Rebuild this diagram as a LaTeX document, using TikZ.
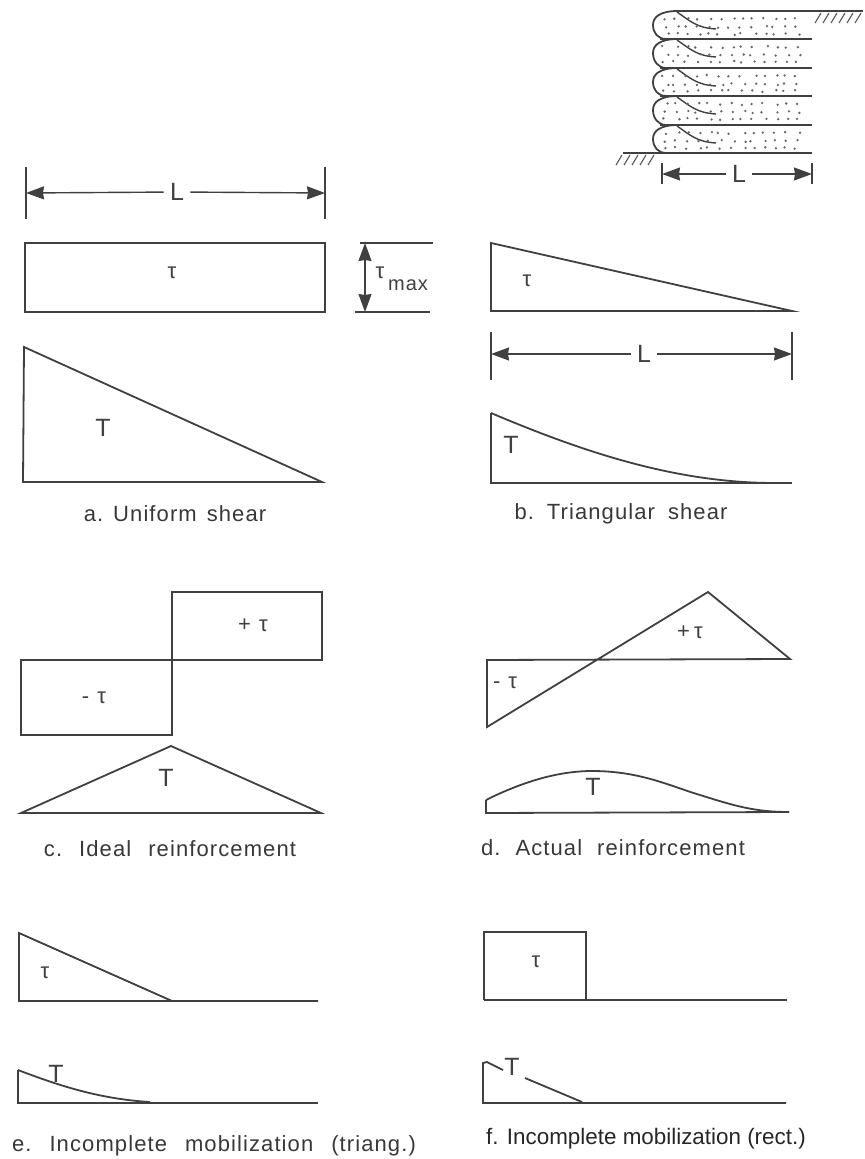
\documentclass[tikz,border=0pt]{standalone}
\usepackage{fontspec}
\setmainfont{Liberation Sans}
\usetikzlibrary{arrows.meta, positioning}

\begin{document}
\begin{tikzpicture}[
                        x=0.5pt, y=-0.5pt,
                        font       = \small,
                        line/.style = {draw=black!75, line width=0.9pt, line join=miter},
                        thin line/.style = {draw=black!75, line width=0.7pt},
                        hatch/.style = {draw=black!65, line width=0.55pt},
                        ar/.style  = {{Stealth[length=9pt,width=6.5pt,inset=0.5pt]}-{Stealth[length=9pt,width=6.5pt,inset=0.5pt]}, draw=black!75, line width=0.7pt},
                        arone/.style  = {-{Stealth[length=9pt,width=6.5pt,inset=0.5pt]}, draw=black!75, line width=0.7pt},
                        lbl/.style = {text=black!75, inner sep=0pt, font=\fontsize{11}{13}\selectfont},
                        bigl/.style = {text=black!75, inner sep=3pt, font=\fontsize{12.5}{14}\selectfont},
                        capt/.style = {text=black!78, inner sep=0pt, font=\fontsize{11}{13}\selectfont\addfontfeature{LetterSpace=5}}
                  ]
                  \useasboundingbox (0,0) rectangle (864,1159);

                  % wrapped layers
                  \foreach \yt/\yb in {11/39, 39/68, 68/96, 96/125, 125/153} {
                        \draw[line] (678,\yt) .. controls (660,\yt) and (653,\yt+6) .. (653,\yt+14)
                                              .. controls (653,\yt+22) and (658,\yb) .. (666,\yb);
                        \draw[thin line] (677,\yt+1) .. controls (690,\yt+10) and (697,\yt+17) .. (716,\yt+18);
                        \draw[line] (660,\yb) -- (812,\yb);
                  }
                  \draw[line] (675,11) -- (863,11);
                  \draw[line] (623,153) -- (660,153);
                  \foreach \hx in {815,823,...,860} \draw[hatch] (\hx+6,13) -- (\hx,23);
                  \foreach \hx in {616,624,...,648} \draw[hatch] (\hx+6,155) -- (\hx,165);

                  % soil
                  \pgfmathsetseed{11}
                  \foreach \yt in {11,39,68,96,125} {
                        \foreach \rowy in {7,15,22} {
                              \foreach \px in {662,673,...,802} {
                                    \fill[black!60] (\px+7*rnd,\yt+\rowy+2*rnd) circle (0.65pt);
                              }
                        }
                  }

                  % key sketch L
                  \coordinate (keyl) at (662,174);
                  \coordinate (keyr) at (812,174);
                  \node[bigl] (keyL) at (739,174) {L};
                  \draw[arone] (keyL) -- (keyl);
                  \draw[arone] (keyL) -- (keyr);
                  \draw[thin line] (662,163) -- (662,184);
                  \draw[thin line] (812,163) -- (812,184);

                  % a
                  \coordinate (al) at (26,193);
                  \coordinate (ar) at (325,193);
                  \node[bigl] (aL) at (177,192) {L};
                  \draw[arone] (aL) -- (al);
                  \draw[arone] (aL) -- (ar);
                  \draw[thin line] (26,167) -- (26,219);
                  \draw[thin line] (325,167) -- (325,219);
                  \draw[line] (25,243) rectangle (325,312);
                  \node[lbl] (atau) at (172,273) {τ};
                  \draw[line] (360,243) -- (433,243);
                  \draw[line] (355,312) -- (430,312);
                  \coordinate (mt) at (365,243);
                  \coordinate (mb) at (365,312);
                  \draw[ar] (mt) -- (mb);
                  \node[lbl] (mtau) at (380,273) {τ};
                  \node[lbl, font=\fontsize{10}{12}\selectfont\addfontfeature{LetterSpace=5}] (mmax) at (408,285) {max};
                  \draw[line] (24,347) -- (23,482) -- (322,482) -- cycle;
                  \node[bigl] (aT) at (103,428) {T};
                  \node[capt] (acap) at (175,514) {a.\hspace{5pt}Uniform\hspace{5pt}shear};

                  % b
                  \draw[line] (491,243) -- (491,311) -- (792,311) -- cycle;
                  \node[lbl] (btau) at (527,281) {τ};
                  \coordinate (bl) at (491,354);
                  \coordinate (br) at (792,354);
                  \node[bigl] (bL) at (644,354) {L};
                  \draw[arone] (bL) -- (bl);
                  \draw[arone] (bL) -- (br);
                  \draw[thin line] (491,332) -- (491,380);
                  \draw[thin line] (792,332) -- (792,380);
                  \draw[line] (491,413) -- (491,483) -- (792,483);
                  \draw[line] (491,413) .. controls (590,455) and (680,483) .. (775,483);
                  \node[bigl] (bT) at (511,445) {T};
                  \node[capt] (bcap) at (621,514) {b.\hspace{6.5pt}Triangular\hspace{6.5pt}shear};

                  % c
                  \draw[line] (172,660) -- (21,660) -- (21,735) -- (172,735) -- (172,592) -- (322,592) -- (322,660) -- (172,660);
                  \node[lbl] (ctaup) at (253,625) {+\hspace{4pt}τ};
                  \node[lbl] (ctaum) at (94,698) {-\hspace{4pt}τ};
                  \draw[line] (21,813) -- (171,746) -- (321,813) -- cycle;
                  \node[bigl] (cT) at (166,778) {T};
                  \node[capt] (ccap) at (170,849) {c.\hspace{8.5pt}Ideal\hspace{8.5pt}reinforcement};

                  % d
                  \draw[line] (487,660) -- (790,659) -- (708,592) -- (487,727) -- cycle;
                  \node[lbl] (dtaup) at (690,632) {+\hspace{2pt}τ};
                  \node[lbl] (dtaum) at (505,683) {-\hspace{4pt}τ};
                  \draw[line] (486,800) -- (486,813) -- (789,812);
                  \draw[line] (486,800) .. controls (530,778) and (565,771) .. (592,771)
                                        .. controls (640,771) and (670,786) .. (700,795)
                                        .. controls (735,806) and (755,812) .. (789,812);
                  \node[bigl] (dT) at (593,787) {T};
                  \node[capt] (dcap) at (613,848) {d.\hspace{7.5pt}Actual\hspace{7.5pt}reinforcement};

                  % e
                  \draw[line] (172,1001) -- (19,933) -- (19,1001) -- (318,1001);
                  \node[lbl] (etau) at (45,973) {τ};
                  \draw[line] (18,1070) -- (18,1103) -- (318,1103);
                  \draw[line] (18,1070) .. controls (60,1086) and (100,1099) .. (150,1102);
                  \node[bigl] (eT) at (56,1074) {T};
                  \node[capt] (ecap) at (214,1146) {e.\hspace{9pt}Incomplete\hspace{9pt}mobilization\hspace{9pt}(triang.)};

                  % f
                  \draw[line] (484,1000) -- (484,932) -- (586,932) -- (586,1000);
                  \draw[line] (484,1000) -- (787,1000);
                  \node[lbl] (ftau) at (536,962) {τ};
                  \draw[line] (503,1070) -- (487,1062) -- (483,1063) -- (483,1103) -- (786,1103);
                  \draw[line] (525,1078) -- (582,1102);
                  \node[bigl] (fT) at (512,1067) {T};
                  \node[capt, text=black!85, font=\fontsize{11.2}{13}\selectfont] (fcap) at (646,1139) {f. Incomplete mobilization (rect.)};
            \end{tikzpicture}
\end{document}
